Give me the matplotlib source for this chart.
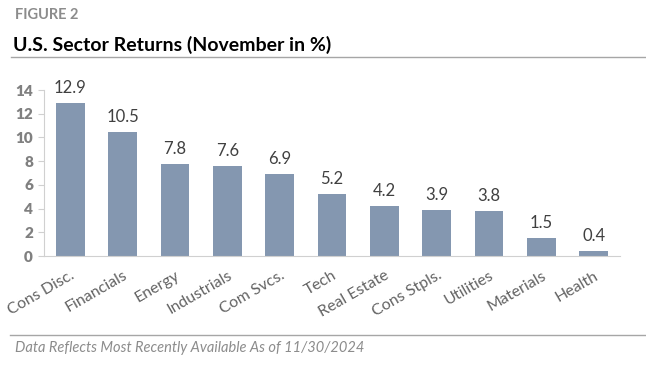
import matplotlib.pyplot as plt
from matplotlib.lines import Line2D

plt.rcParams['font.family'] = ['Lato', 'DejaVu Sans']

sectors = ['Cons Disc.', 'Financials', 'Energy', 'Industrials', 'Com Svcs.', 'Tech',
           'Real Estate', 'Cons Stpls.', 'Utilities', 'Materials', 'Health']
returns = [12.9, 10.5, 7.8, 7.6, 6.9, 5.2, 4.2, 3.9, 3.8, 1.5, 0.4]
yticks = [0, 2, 4, 6, 8, 10, 12, 14]

W, H = 646, 366
fig = plt.figure(figsize=(W / 100, H / 100), dpi=100)

# axes box in pixels: left 44, right 620, top 90, bottom 256
ax = fig.add_axes([44 / W, 1 - 256 / H, (620 - 44) / W, (256 - 90) / H])
x = range(len(sectors))
bars = ax.bar(x, returns, width=0.55, color='#8497B0')
ax.bar_label(bars, labels=[f'{v:.1f}' for v in returns], padding=5,
             fontsize=12, color='#404040')

ax.set_xlim(-0.5, len(sectors) - 0.5)
ax.set_ylim(0, 14)
ax.set_yticks(yticks)
ax.set_yticklabels([str(t) for t in yticks], fontsize=11, fontweight='heavy', color='#808080')
ax.set_xticks(list(x))
ax.set_xticklabels(sectors, rotation=30, ha='right', va='top', rotation_mode='anchor',
                   fontsize=11.5, color='#636363')
ax.tick_params(axis='x', length=0, pad=9)
ax.tick_params(axis='y', length=4, color='#d0d0d0', pad=4)
for s in ['top', 'right']:
    ax.spines[s].set_visible(False)
ax.spines['left'].set_color('#d0d0d0')
ax.spines['bottom'].set_color('#d0d0d0')

fig.text(15 / W, 1 - 15 / H, 'FIGURE 2', fontsize=10.5, fontweight='bold',
         color='#8c8c8c', va='center')
fig.text(13 / W, 1 - 45 / H, 'U.S. Sector Returns (November in %)', fontsize=14,
         fontweight='bold', color='black', va='center')
fig.add_artist(Line2D([11 / W, 1], [1 - 57 / H, 1 - 57 / H], color='#a6a6a6', lw=1))
fig.add_artist(Line2D([10 / W, 1], [1 - 335 / H, 1 - 335 / H], color='#a6a6a6', lw=1))
fig.text(15 / W, 1 - 348 / H, 'Data Reflects Most Recently Available As of 11/30/2024',
         fontsize=10.5, style='italic', color='#8c8c8c', va='center')

fig.savefig('out.png', dpi=100)
